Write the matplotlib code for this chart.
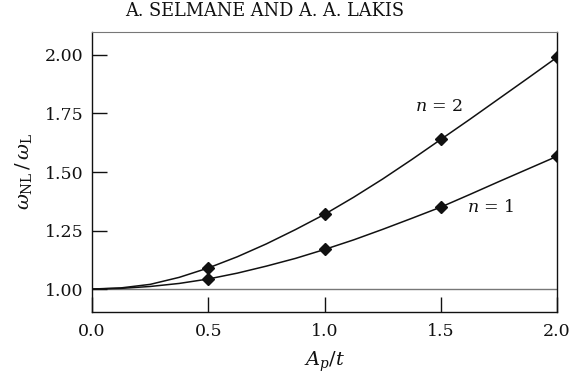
import numpy as np
import matplotlib
matplotlib.use("Agg")
import matplotlib.pyplot as plt

# curves (amplitude ratio vs frequency ratio)
amp = [0.0, 0.125, 0.25, 0.375, 0.5, 0.625, 0.75, 0.875, 1.0,
       1.125, 1.25, 1.375, 1.5, 1.625, 1.75, 1.875, 2.0]
ratio_n2 = [1.0, 1.005, 1.02, 1.05, 1.09, 1.138, 1.193, 1.254, 1.319,
            1.392, 1.470, 1.553, 1.639, 1.725, 1.813, 1.901, 1.99]
ratio_n1 = [1.0, 1.003, 1.011, 1.024, 1.043, 1.068, 1.098, 1.131, 1.169,
            1.21, 1.255, 1.302, 1.350, 1.404, 1.459, 1.513, 1.567]

# marked points
pts_x = [0.5, 1.0, 1.5, 2.0]
pts_n2 = [1.09, 1.319, 1.639, 1.99]
pts_n1 = [1.043, 1.169, 1.350, 1.567]

xticks = [0.0, 0.5, 1.0, 1.5, 2.0]
yticks = [1.00, 1.25, 1.50, 1.75, 2.00]

plt.rcParams["font.family"] = "DejaVu Serif"
plt.rcParams["mathtext.fontset"] = "dejavuserif"

ink = "#111111"

fig = plt.figure(figsize=(5.73, 3.81), dpi=100)
ax = fig.add_axes([0.1606, 0.1811, 0.8115, 0.7349])

ax.axhline(1.0, color="#777777", lw=1.0, zorder=1)
ax.plot(amp, ratio_n2, color=ink, lw=1.1)
ax.plot(amp, ratio_n1, color=ink, lw=1.1)
ax.plot(pts_x, pts_n2, "D", color=ink, ms=6, ls="none")
ax.plot(pts_x, pts_n1, "D", color=ink, ms=6, ls="none")

ax.set_xlim(0, 2)
ax.set_ylim(0.902, 2.098)
ax.set_xticks(xticks)
ax.set_xticklabels(["%.1f" % v for v in xticks])
ax.set_yticks(yticks)
ax.set_yticklabels(["%.2f" % v for v in yticks])
ax.tick_params(direction="in", length=10.5, width=1.0, labelsize=12.5,
               colors=ink)
ax.tick_params(axis="y", pad=6)
ax.tick_params(axis="x", pad=8)

for s in ["left", "right", "bottom"]:
    ax.spines[s].set_color(ink)
    ax.spines[s].set_linewidth(1.0)
ax.spines["top"].set_color("#777777")

ax.text(1.389, 1.778, r"$n$ = 2", fontsize=12.5, va="center", ha="left",
        color=ink)
ax.text(1.613, 1.35, r"$n$ = 1", fontsize=12.5, va="center", ha="left",
        color=ink)

ax.set_xlabel(r"$A_p/t$", fontsize=14, color=ink, labelpad=7)
ax.set_ylabel(r"$\omega_{\rm NL}\,/\,\omega_{\rm L}$", fontsize=14,
              color=ink, labelpad=8)

fig.text(265 / 573, 1 - 11 / 381, "A. SELMANE AND A. A. LAKIS",
         fontsize=12.8, ha="center", va="center", color=ink)

fig.savefig("out.png", dpi=100)
